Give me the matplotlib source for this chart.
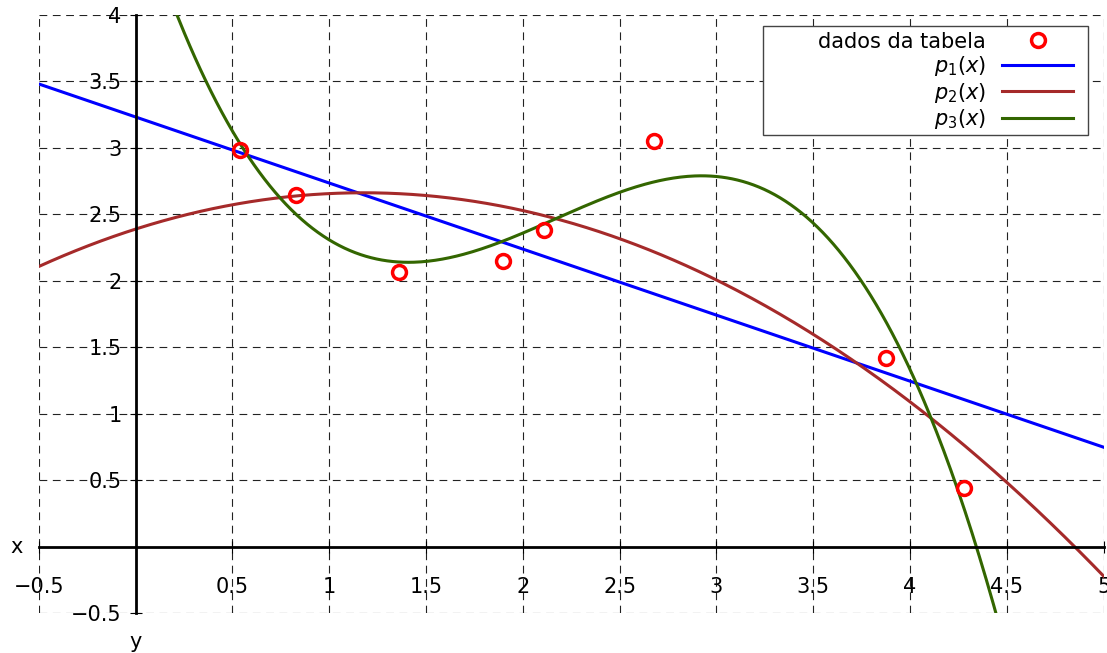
import numpy as np
import matplotlib
matplotlib.use('Agg')
import matplotlib.pyplot as plt
from matplotlib.ticker import FuncFormatter
from matplotlib.patches import Rectangle

# pontos da tabela
xd = [0.538, 0.827, 1.359, 1.897, 2.109, 2.677, 3.875, 4.278]
yd = [2.984, 2.646, 2.066, 2.149, 2.382, 3.051, 1.419, 0.441]

xticks = [-0.5, 0.5, 1, 1.5, 2, 2.5, 3, 3.5, 4, 4.5, 5]
yticks = [-0.5, 0.5, 1, 1.5, 2, 2.5, 3, 3.5, 4]

# ajustes por minimos quadrados
c1 = np.polyfit(xd, yd, 1)
c2 = np.polyfit(xd, yd, 2)
c3 = np.polyfit(xd, yd, 3)

xs = np.linspace(-0.5, 5, 600)

fig = plt.figure(figsize=(11.07, 6.53), dpi=100)
ax = fig.add_axes([0.035, 0.061, 0.962, 0.916])

ax.plot(xd, yd, 'o', mfc='none', mec='red', ms=10, mew=2.5, label='dados da tabela', zorder=5)
ax.plot(xs, np.polyval(c1, xs), color='blue', lw=2.2, label='$p_1(x)$')
ax.plot(xs, np.polyval(c2, xs), color='#a52a2a', lw=2.2, label='$p_2(x)$')
ax.plot(xs, np.polyval(c3, xs), color='#336600', lw=2.2, label='$p_3(x)$')

ax.set_xlim(-0.5, 5)
ax.set_ylim(-0.5, 4)
ax.set_xticks(xticks)
ax.set_yticks(yticks)
fmt = FuncFormatter(lambda v, p: ('%g' % v).replace('-', '\u2212'))
ax.xaxis.set_major_formatter(fmt)
ax.yaxis.set_major_formatter(fmt)

ax.spines['left'].set_position(('data', 0))
ax.spines['bottom'].set_position(('data', 0))
ax.spines['right'].set_visible(False)
ax.spines['top'].set_visible(False)
ax.spines['left'].set_linewidth(2)
ax.spines['bottom'].set_linewidth(2)
ax.tick_params(direction='inout', length=8, labelsize=15)
ax.tick_params(axis='x', pad=18)
ax.tick_params(axis='y', pad=6)

ax.grid(True, color='#222222', ls=(0, (7, 5)), lw=0.8)
ax.set_axisbelow(True)

ax.text(-0.58, 0, 'x', fontsize=15, ha='right', va='center')
ax.text(0, -0.64, 'y', fontsize=15, ha='center', va='top')

leg = ax.legend(loc='upper right', bbox_to_anchor=(0.987, 1.0), markerfirst=False,
                frameon=False, fontsize=15, borderpad=0.3, labelspacing=0.12,
                handlelength=3.4, handletextpad=0.8)
ax.add_patch(Rectangle((0.680, 0.799), 0.305, 0.183, transform=ax.transAxes,
                       facecolor='white', edgecolor='#444444', lw=1, zorder=4))
leg.set_zorder(6)

fig.savefig('out.png', dpi=100)
